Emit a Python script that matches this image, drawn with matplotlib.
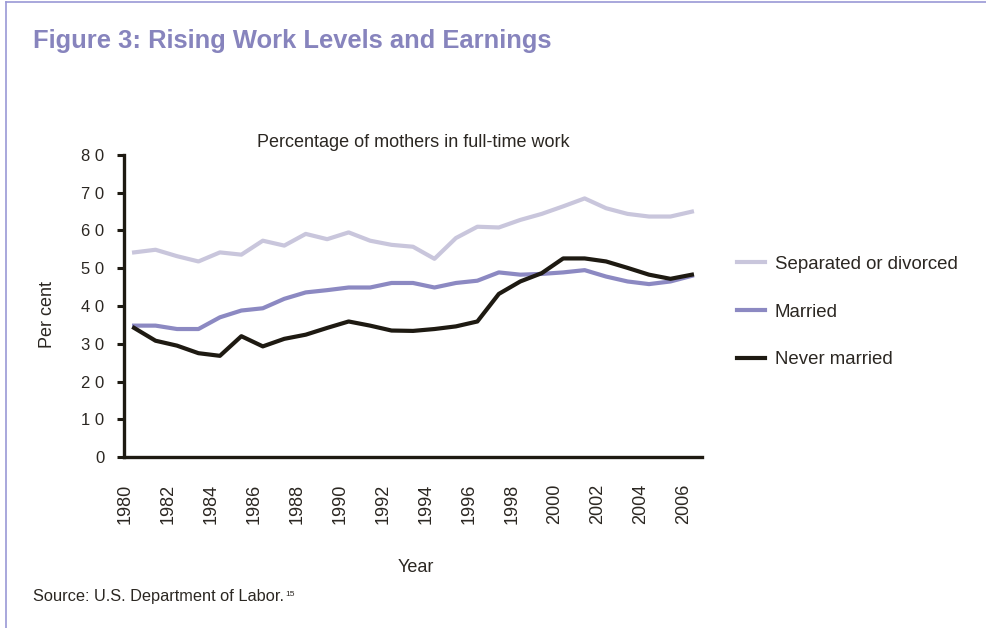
import matplotlib
matplotlib.use("Agg")
import matplotlib.pyplot as plt
from matplotlib.lines import Line2D
import numpy as np

plt.rcParams['font.family'] = ['Liberation Sans', 'DejaVu Sans']

# ---- data ----
years = list(range(1980, 2007))
separated = [54.2, 54.9, 53.2, 51.8, 54.2, 53.6, 57.3, 56.0, 59.1, 57.7, 59.5, 57.3, 56.2,
             55.7, 52.5, 58.0, 61.0, 60.8, 62.8, 64.4, 66.4, 68.5, 65.9, 64.4, 63.7, 63.7, 65.0]
married = [34.8, 34.8, 33.9, 33.9, 37.0, 38.8, 39.4, 41.9, 43.6, 44.2, 44.9, 44.9, 46.1,
           46.1, 44.9, 46.1, 46.7, 48.9, 48.3, 48.5, 48.9, 49.5, 47.8, 46.5, 45.8, 46.5, 48.0]
never_married = [34.2, 30.8, 29.5, 27.5, 26.8, 32.0, 29.3, 31.3, 32.4, 34.2, 35.9, 34.8, 33.5,
                 33.4, 33.9, 34.6, 35.9, 43.2, 46.5, 48.7, 52.6, 52.6, 51.8, 50.1, 48.3, 47.2, 48.3]
series_names = ["Separated or divorced", "Married", "Never married"]
label_years = list(range(1980, 2007, 2))
year_labels = [str(y) for y in label_years]
y_ticks = [0, 10, 20, 30, 40, 50, 60, 70, 80]
y_tick_labels = ["0", "1 0", "2 0", "3 0", "4 0", "5 0", "6 0", "7 0", "8 0"]

# ---- styles ----
c_sep = "#c9c6dc"
c_mar = "#8c89c2"
c_nev = "#1e1a12"
c_text = "#2b2722"
c_title = "#8784bd"
c_frame = "#9a98d6"

W, H = 986, 628
fig = plt.figure(figsize=(W / 100, H / 100), dpi=100)

# frame lines (left and top)
fig.add_artist(Line2D([6 / W, 6 / W], [0, 1 - 2 / H], color=c_frame, lw=1.2))
fig.add_artist(Line2D([6 / W, 1], [1 - 2 / H, 1 - 2 / H], color=c_frame, lw=1.2))

fig.text(33 / W, 1 - 41 / H, "Figure 3: Rising Work Levels and Earnings", color=c_title,
         fontsize=18.4, fontweight="bold", ha="left", va="center")

ax_l, ax_r, ax_b, ax_t = 124, 702, 457, 155
ax = fig.add_axes([ax_l / W, 1 - ax_b / H, (ax_r - ax_l) / W, (ax_b - ax_t) / H])

lw = 3.0
ax.plot(years, separated, color=c_sep, lw=lw, solid_joinstyle="round", label=series_names[0])
ax.plot(years, married, color=c_mar, lw=lw, solid_joinstyle="round", label=series_names[1])
ax.plot(years, never_married, color=c_nev, lw=lw, solid_joinstyle="round", label=series_names[2])

ax.set_ylim(0, 80)
ax.set_xlim(1979.53, 2006.47)
ax.set_yticks(y_ticks)
ax.set_yticklabels(y_tick_labels, fontsize=12, color=c_text)
ax.tick_params(axis="y", length=5, width=2.2, color=c_nev, pad=9)

# labels sit a little to the left of the points, as in the original
ax.set_xticks([y - 0.4 for y in label_years])
ax.set_xticklabels(year_labels, rotation=90, fontsize=13, color=c_text)
ax.tick_params(axis="x", length=0, pad=19)

for s in ["top", "right"]:
    ax.spines[s].set_visible(False)
for s in ["left", "bottom"]:
    ax.spines[s].set_color(c_nev)
    ax.spines[s].set_linewidth(2.4)

ax.set_title("Percentage of mothers in full-time work", fontsize=13, color=c_text, pad=6)
fig.text(48 / W, 1 - 314 / H, "Per cent", rotation=90, fontsize=13, color=c_text,
         ha="center", va="center")
fig.text(416 / W, 1 - 568 / H, "Year", fontsize=13, color=c_text, ha="center", va="center")

leg = fig.legend(handles=ax.get_lines(), labels=series_names, loc="upper left",
                 bbox_to_anchor=(720 / W, 1 - 239 / H), frameon=False, fontsize=13.4,
                 handlelength=1.5, handletextpad=0.55, labelspacing=1.65, labelcolor=c_text)

src = fig.text(33 / W, 1 - 597 / H, "Source: U.S. Department of Labor.", fontsize=11.8,
               color=c_text, ha="left", va="center")
fig.canvas.draw()
bb = src.get_window_extent(fig.canvas.get_renderer())
fig.text((bb.x1 + 1) / W, (bb.y1 - 2) / H, "15", fontsize=6, color=c_text, ha="left", va="top")

fig.savefig("out.png", dpi=100)
